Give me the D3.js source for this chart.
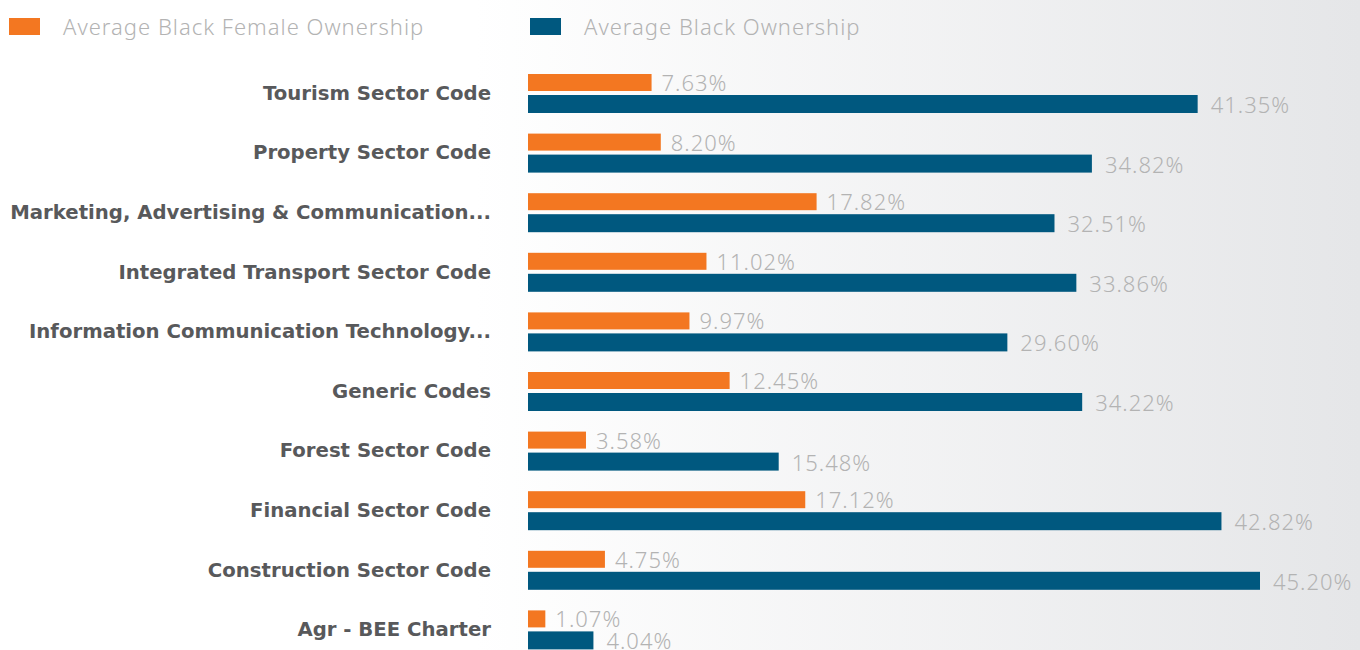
<!DOCTYPE html>
<html>
<head>
<meta charset="utf-8">
<script src="https://cdn.jsdelivr.net/npm/d3@7"></script>
<style>
  html, body { margin: 0; padding: 0; background: #fff; }
  svg { display: block; }
</style>
</head>
<body>
<div id="chart"></div>
<script>
// Sector codes, top to bottom
var categories = [
  "Tourism Sector Code",
  "Property Sector Code",
  "Marketing, Advertising & Communication...",
  "Integrated Transport Sector Code",
  "Information Communication Technology...",
  "Generic Codes",
  "Forest Sector Code",
  "Financial Sector Code",
  "Construction Sector Code",
  "Agr - BEE Charter"
];

// Percentages
var femaleOwnership = [7.63, 8.20, 17.82, 11.02, 9.97, 12.45, 3.58, 17.12, 4.75, 1.07];
var blackOwnership = [41.35, 34.82, 32.51, 33.86, 29.60, 34.22, 15.48, 42.82, 45.20, 4.04];

var seriesNames = ["Average Black Female Ownership", "Average Black Ownership"];
var seriesColors = ["#f37721", "#00587f"];

var width = 1360, height = 650;
var left = 528;

var svg = d3.select("#chart").append("svg")
  .attr("width", width)
  .attr("height", height);

// soft grey fade on the right side
var grad = svg.append("defs").append("linearGradient")
  .attr("id", "bg")
  .attr("x1", "0%").attr("x2", "100%")
  .attr("y1", "0%").attr("y2", "0%");
grad.append("stop").attr("offset", "35%").attr("stop-color", "#ffffff");
grad.append("stop").attr("offset", "100%").attr("stop-color", "#e5e6e8");

svg.append("rect")
  .attr("width", width)
  .attr("height", height)
  .attr("fill", "url(#bg)");

var x = d3.scaleLinear().domain([0, 45.2]).range([0, 732]);
var y = d3.scaleBand().domain(categories).range([72, 668]);

var valueFont = "'Noto Sans', 'Liberation Sans', sans-serif";

// Legend
var legend = svg.append("g").selectAll("g")
  .data(seriesNames)
  .enter().append("g")
  .attr("transform", function(d, i) { return "translate(" + [9 + i * 521, 0] + ")"; });

legend.append("rect")
  .attr("y", 18)
  .attr("width", 31)
  .attr("height", 17)
  .attr("fill", function(d, i) { return seriesColors[i]; });

legend.append("text")
  .attr("x", 54)
  .attr("y", 35)
  .attr("font-family", valueFont)
  .attr("font-weight", 300)
  .attr("font-size", 22)
  .attr("letter-spacing", 1)
  .attr("fill", "#b3b3b3")
  .text(function(d) { return d; });

// Rows
var rows = svg.append("g").selectAll("g")
  .data(categories)
  .enter().append("g")
  .attr("transform", function(d) { return "translate(0," + y(d) + ")"; });

rows.append("text")
  .attr("x", 491)
  .attr("y", 21)
  .attr("dy", "0.35em")
  .attr("text-anchor", "end")
  .attr("font-family", "'DejaVu Sans', sans-serif")
  .attr("font-weight", "bold")
  .attr("font-size", 19.7)
  .attr("fill", "#58595b")
  .text(function(d) { return d; });

// female bars (top of each pair)
rows.append("rect")
  .attr("x", left)
  .attr("y", 2)
  .attr("height", 17)
  .attr("width", function(d, i) { return x(femaleOwnership[i]); })
  .attr("fill", seriesColors[0]);

rows.append("text")
  .attr("x", function(d, i) { return left + x(femaleOwnership[i]) + 10; })
  .attr("y", 19)
  .attr("font-family", valueFont)
  .attr("font-weight", 300)
  .attr("font-size", 22)
  .attr("letter-spacing", 1)
  .attr("fill", "#b3b3b3")
  .text(function(d, i) { return femaleOwnership[i].toFixed(2) + "%"; });

// overall bars
rows.append("rect")
  .attr("x", left)
  .attr("y", 23)
  .attr("height", 18)
  .attr("width", function(d, i) { return x(blackOwnership[i]); })
  .attr("fill", seriesColors[1]);

rows.append("text")
  .attr("x", function(d, i) { return left + x(blackOwnership[i]) + 13; })
  .attr("y", 41)
  .attr("font-family", valueFont)
  .attr("font-weight", 300)
  .attr("font-size", 22)
  .attr("letter-spacing", 1)
  .attr("fill", "#b3b3b3")
  .text(function(d, i) { return blackOwnership[i].toFixed(2) + "%"; });
</script>
</body>
</html>
